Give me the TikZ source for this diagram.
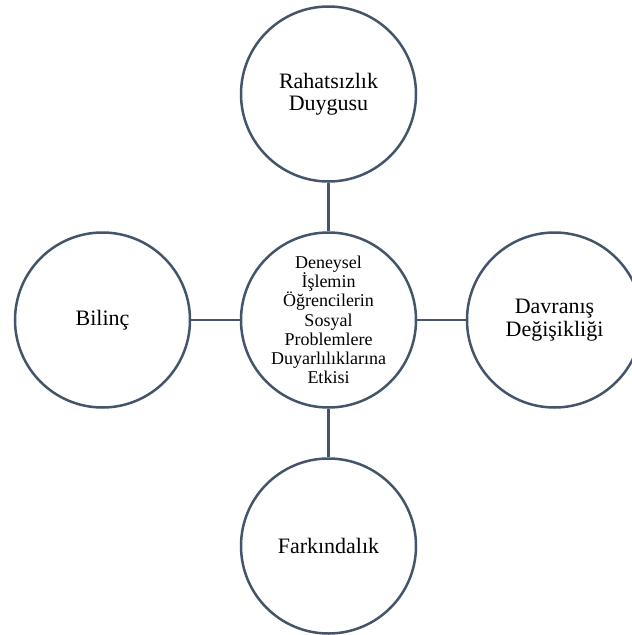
\documentclass[tikz,border=0pt]{standalone}
\usepackage{fontspec}
\setmainfont{Liberation Serif}
\definecolor{linec}{HTML}{44546A}
\begin{document}
\begin{tikzpicture}[x=1pt,y=-1pt,
  bubble/.style={circle,draw=linec,line width=2.5pt,minimum size=175pt,inner sep=0pt,align=center,
    font=\fontsize{22}{22.5}\selectfont},
  hub/.style={bubble,font=\fontsize{18}{19.2}\selectfont},
  link/.style={draw=linec,line width=2.5pt}]
\useasboundingbox (0,0) rectangle (632,635);
\node[hub] (c) at (328.5,320) {Deneysel\\İşlemin\\Öğrencilerin\\Sosyal\\Problemlere\\Duyarlılıklarına\\Etkisi};
\node[bubble] (t) at (328.5,94) {Rahatsızlık\\Duygusu};
\node[bubble] (l) at (102.5,320) {Bilinç};
\node[bubble] (r) at (554.5,320) {Davranış\\Değişikliği};
\node[bubble] (b) at (328.5,546) {Farkındalık};
\draw[link] (c) -- (t);
\draw[link] (c) -- (l);
\draw[link] (c) -- (r);
\draw[link] (c) -- (b);
\end{tikzpicture}
\end{document}
